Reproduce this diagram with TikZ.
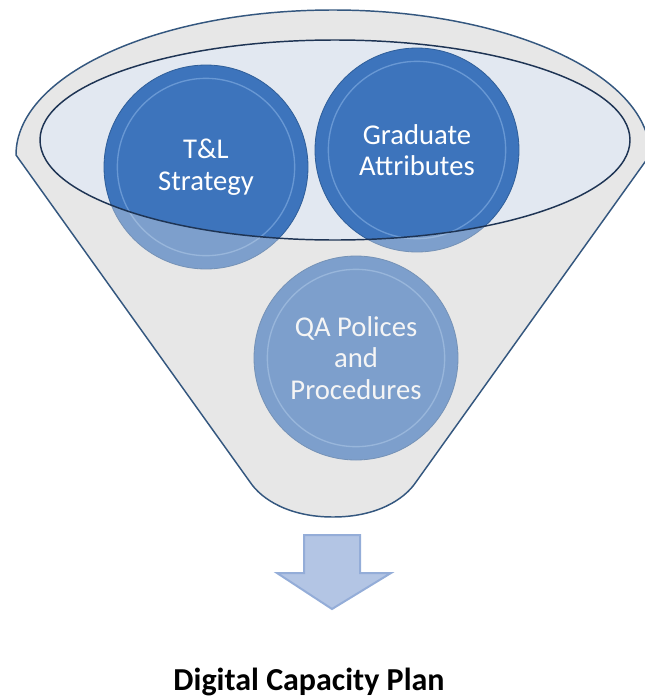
\documentclass[tikz,border=0pt]{standalone}
\usepackage{fontspec}
\setmainfont{Carlito}
\usetikzlibrary{positioning,shapes.geometric}
\definecolor{funnelgray}{HTML}{E7E7E7}
\definecolor{funnelline}{HTML}{34577F}
\definecolor{rimfill}{HTML}{E2E8F1}
\definecolor{rimline}{HTML}{1E3454}
\definecolor{ballblue}{HTML}{3D74BC}
\definecolor{balledge}{HTML}{2F5E99}
\definecolor{ballrim}{HTML}{86B0E4}
\definecolor{arrowfill}{HTML}{B3C5E4}
\definecolor{arrowline}{HTML}{94ADD8}
\tikzset{
    ball/.style={circle,fill=ballblue,draw=balledge,line width=0.6pt,
        minimum size=153pt,inner sep=0pt,text=white,align=center,
        font=\fontsize{21.5}{23.6}\selectfont,
        path picture={\draw[ballrim,line width=1pt,opacity=0.6]
            (path picture bounding box.center) circle (66.5pt);}},
    funnel/.style={draw=funnelline,line width=1.1pt},
    rim/.style={draw=rimline,line width=1.1pt},
    downarrow/.style={fill=arrowfill,draw=arrowline,line width=1.5pt,line join=miter},
    plantitle/.style={font=\fontsize{24}{29}\selectfont\bfseries,anchor=base}
}
\newcommand{\funnelpath}{(16,155) arc[start angle=180,end angle=360,x radius=317,y radius=145]
    -- (416,482) .. controls (404,500) and (376,517) .. (333,517)
    .. controls (290,517) and (262,500) .. (250,482) -- cycle}

\begin{document}
\begin{tikzpicture}[x=0.75pt,y=-0.75pt]
    \useasboundingbox (0,0) rectangle (645,697);
    % funnel body and opening
    \fill[funnelgray] \funnelpath;
    \fill[rimfill] (335,140) ellipse [x radius=295,y radius=100];
    % the three inputs
    \node[ball] (tl)   at (206,167) {T\&L\\Strategy};
    \node[ball] (grad) at (417,150) {Graduate\\Attributes};
    \node[ball] (qa)   at (356,358) {QA Polices\\and\\Procedures};
    % front of the funnel over the balls
    \fill[funnelgray,fill opacity=0.38,even odd rule] \funnelpath
        (335,140) ellipse [x radius=295,y radius=100];
    \draw[rim] (335,140) ellipse [x radius=295,y radius=100];
    \draw[funnel] \funnelpath;
    % output
    \draw[downarrow] (304,535) -- (360,535) -- (360,573) -- (391,573)
        -- (332,609) -- (277,573) -- (304,573) -- cycle;
    \node[plantitle] (plan) at (309,690) {Digital Capacity Plan};
\end{tikzpicture}
\end{document}
